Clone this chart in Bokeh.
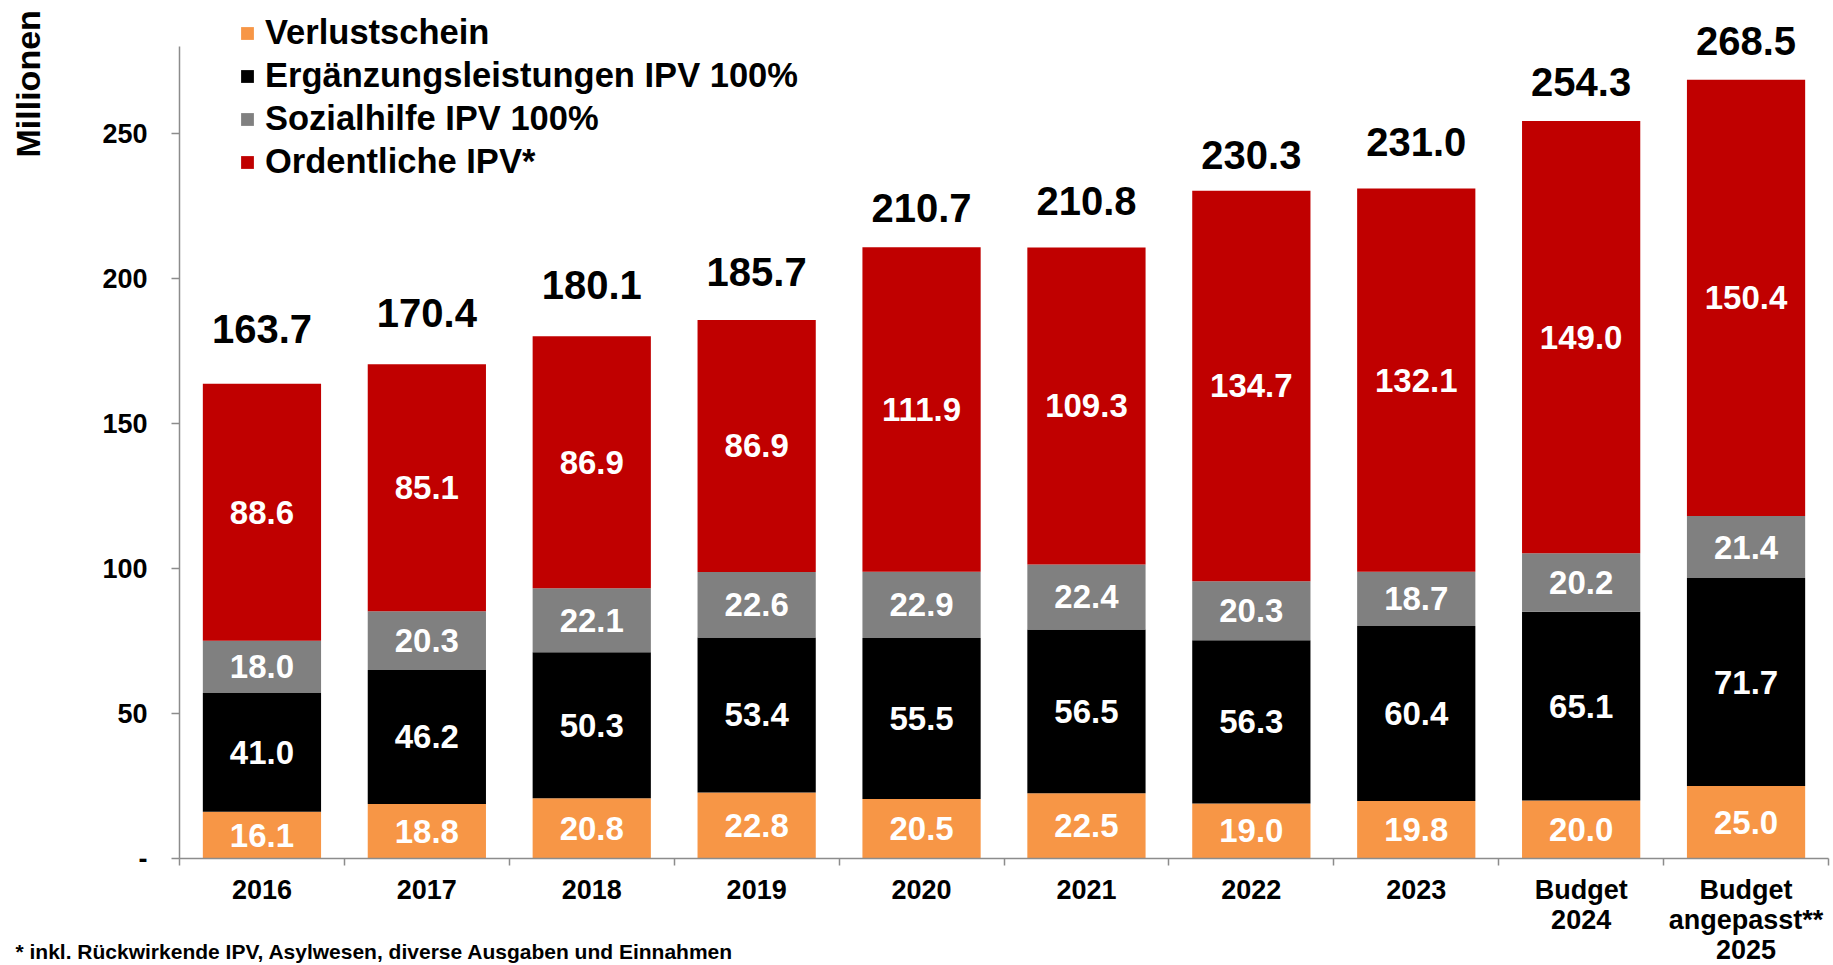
import numpy as np
from bokeh.plotting import figure
from bokeh.models import (ColumnDataSource, Range1d, FixedTicker, Legend,
                          LegendItem, Label)
from bokeh.core.properties import value
from bokeh.embed import file_html
from bokeh.resources import INLINE

# ---------------- data ----------------
categories = ["2016", "2017", "2018", "2019", "2020", "2021", "2022", "2023",
              "Budget\n2024", "Budget\nangepasst**\n2025"]
series_names = ["Verlustschein", "Ergänzungsleistungen IPV 100%",
                "Sozialhilfe IPV 100%", "Ordentliche IPV*"]
verlustschein = [16.1, 18.8, 20.8, 22.8, 20.5, 22.5, 19.0, 19.8, 20.0, 25.0]
ergaenzungsleistungen = [41.0, 46.2, 50.3, 53.4, 55.5, 56.5, 56.3, 60.4, 65.1, 71.7]
sozialhilfe = [18.0, 20.3, 22.1, 22.6, 22.9, 22.4, 20.3, 18.7, 20.2, 21.4]
ordentliche = [88.6, 85.1, 86.9, 86.9, 111.9, 109.3, 134.7, 132.1, 149.0, 150.4]
totals = [163.7, 170.4, 180.1, 185.7, 210.7, 210.8, 230.3, 231.0, 254.3, 268.5]
y_ticks = [0, 50, 100, 150, 200, 250]
y_tick_labels = ["-", "50", "100", "150", "200", "250"]
footnote = "* inkl. Rückwirkende IPV, Asylwesen, diverse Ausgaben und Einnahmen"
y_label = "Millionen"

# ---------------- layout / styles ----------------
W, H = 1833, 965
ORIGIN_X, ORIGIN_Y = 179, 858      # pixel position of the axes' origin
PX_PER_CAT, PX_PER_UNIT = 164.9, 2.9
Y_AXIS_TOP = 280
colors = ["#F79646", "#000000", "#808080", "#C00000"]
total_gap_px = [55, 51, 51, 48, 39, 46, 36, 47, 39, 39]   # label centre above bar top
axis_color = "#8C8C8C"
FONT = "Liberation Sans"

series = [verlustschein, ergaenzungsleistungen, sozialhilfe, ordentliche]
keys = ["s0", "s1", "s2", "s3"]
n = len(categories)
xs = [i + 0.5 for i in range(n)]

src = ColumnDataSource(dict(x=xs, **{k: v for k, v in zip(keys, series)}))

x_range = Range1d(-ORIGIN_X / PX_PER_CAT, (W - ORIGIN_X) / PX_PER_CAT)
y_range = Range1d(-(H - ORIGIN_Y) / PX_PER_UNIT, ORIGIN_Y / PX_PER_UNIT)

p = figure(width=W, height=H, x_range=x_range, y_range=y_range,
           output_backend="svg", toolbar_location=None,
           min_border_left=0, min_border_right=0, min_border_top=0,
           min_border_bottom=0)
p.outline_line_color = None
p.xgrid.visible = False
p.ygrid.visible = False
p.background_fill_color = "white"

renderers = p.vbar_stack(keys, x="x", width=0.717, source=src,
                         fill_color=colors, line_color=None)

# segment labels
arr = np.array(series)
bottoms = np.vstack([np.zeros(arr.shape[1]), np.cumsum(arr, axis=0)[:-1]])
mids = bottoms + arr / 2.0
seg = ColumnDataSource(dict(
    x=np.tile(xs, arr.shape[0]),
    y=mids.flatten(),
    t=["%.1f" % v for v in arr.flatten()]))
p.text(x="x", y="y", text="t", source=seg, text_color="white",
       text_font=value(FONT), text_font_style="bold", text_font_size="33px",
       text_align="center", text_baseline="middle")

# totals
stack_top = arr.sum(axis=0)
tot = ColumnDataSource(dict(x=xs, y=stack_top, t=["%.1f" % v for v in totals],
                            off=[-g for g in total_gap_px]))
p.text(x="x", y="y", text="t", y_offset="off", source=tot, text_color="black",
       text_font=value(FONT), text_font_style="bold", text_font_size="40px",
       text_align="center", text_baseline="middle")

# x axis (drawn at y = 0)
xa = p.xaxis[0]
xa.fixed_location = 0
xa.bounds = (0, n)
xa.ticker = FixedTicker(ticks=xs, minor_ticks=list(range(n + 1)))
xa.major_label_overrides = {x: c for x, c in zip(xs, categories)}
xa.major_tick_line_color = None
xa.major_tick_in = 0
xa.major_tick_out = 0
xa.minor_tick_in = 0
xa.minor_tick_out = 7
xa.minor_tick_line_color = axis_color
xa.minor_tick_line_width = 1.5
xa.axis_line_color = axis_color
xa.axis_line_width = 1.5
xa.major_label_standoff = 9
xa.major_label_text_font = FONT
xa.major_label_text_font_style = "bold"
xa.major_label_text_font_size = "27px"
xa.major_label_text_color = "black"
xa.major_label_text_line_height = 1.0

# y axis (drawn at x = 0)
ya = p.yaxis[0]
ya.fixed_location = 0
ya.ticker = FixedTicker(ticks=y_ticks, minor_ticks=[])
ya.major_label_overrides = {t: l for t, l in zip(y_ticks, y_tick_labels)}
ya.bounds = (0, Y_AXIS_TOP)
ya.major_tick_in = 0
ya.major_tick_out = 8
ya.major_tick_line_color = axis_color
ya.major_tick_line_width = 1.5
ya.minor_tick_line_color = None
ya.axis_line_color = axis_color
ya.axis_line_width = 1.5
ya.major_label_standoff = 24
ya.major_label_text_font = FONT
ya.major_label_text_font_style = "bold"
ya.major_label_text_font_size = "27px"
ya.major_label_text_color = "black"

# legend
legend = Legend(
    items=[LegendItem(label=nm, renderers=[r]) for nm, r in zip(series_names, renderers)],
    location=(239, 784), orientation="vertical",
    label_text_font=FONT, label_text_font_style="bold",
    label_text_font_size="34.5px", label_text_color="black",
    glyph_width=16, glyph_height=16, label_standoff=10, label_height=37,
    spacing=4, padding=0, margin=0,
    border_line_color=None, background_fill_alpha=0)
p.add_layout(legend, "center")

# y label
p.add_layout(Label(x=27, y=H - 157, x_units="screen", y_units="screen",
                   text=y_label, angle=np.pi / 2, text_align="left",
                   text_baseline="middle", text_font=FONT,
                   text_font_style="bold", text_font_size="34px",
                   text_color="black"))

# footnote
p.add_layout(Label(x=15, y=14, x_units="screen", y_units="screen",
                   text=footnote, text_align="left",
                   text_baseline="alphabetic", text_font=FONT,
                   text_font_style="bold", text_font_size="21px",
                   text_color="black"))

open("out.html", "w").write(file_html(p, INLINE))
